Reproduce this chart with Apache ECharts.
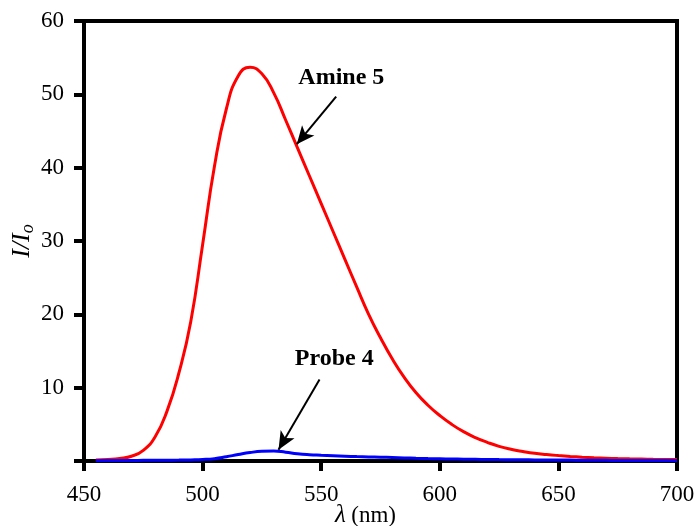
<!DOCTYPE html>
<html>
<head>
<meta charset="utf-8">
<script src="https://cdn.jsdelivr.net/npm/echarts@6/dist/echarts.min.js"></script>
<style>
html, body { margin: 0; padding: 0; background: #fff; }
#chart { width: 698px; height: 526px; }
</style>
</head>
<body>
<div id="chart"></div>
<script>
// Emission wavelengths (nm)
const wavelengths = [455, 460, 465, 470, 475, 480, 485, 490, 495, 500,
  505, 510, 515, 520, 525, 530, 535, 540, 545, 550,
  555, 560, 565, 570, 575, 580, 585, 590, 595, 600,
  605, 610, 615, 620, 625, 630, 635, 640, 645, 650,
  655, 660, 665, 670, 675, 680, 685, 690, 695, 700];

// Relative fluorescence intensity I/Io
const amine5 = [0.15, 0.22, 0.35, 0.65, 1.45, 3.3, 6.8, 12.0, 19.0, 29.5,
  40.2, 48.0, 52.5, 53.7, 52.8, 50.2, 46.5, 42.7, 38.9, 35.1,
  31.3, 27.5, 23.7, 20.0, 16.8, 13.9, 11.4, 9.3, 7.6, 6.2,
  5.0, 4.0, 3.2, 2.55, 2.0, 1.6, 1.3, 1.05, 0.88, 0.74,
  0.62, 0.52, 0.44, 0.38, 0.33, 0.29, 0.26, 0.23, 0.21, 0.2];

const probe4 = [0.05, 0.06, 0.07, 0.08, 0.09, 0.1, 0.11, 0.12, 0.15, 0.2,
  0.32, 0.58, 0.88, 1.15, 1.32, 1.36, 1.2, 0.98, 0.85, 0.78,
  0.72, 0.66, 0.6, 0.56, 0.52, 0.47, 0.42, 0.37, 0.33, 0.3,
  0.27, 0.25, 0.23, 0.21, 0.19, 0.18, 0.16, 0.15, 0.14, 0.13,
  0.12, 0.11, 0.1, 0.09, 0.08, 0.07, 0.07, 0.06, 0.06, 0.05];

// Axis ranges
const xRange = { min: 450, max: 700, interval: 50 };
const yRange = { min: 0, max: 60, interval: 10 };

// Annotation text anchors and arrows (tail -> tip), in data units
const amineNote = { text: 'Amine 5', at: [558.5, 52.2], tail: [556.3, 49.7], tip: [539.7, 43.2] };
const probeNote = { text: 'Probe 4', at: [555.5, 13.9], tail: [549.3, 11.1], tip: [532.0, 1.55] };

const serif = '"Liberation Serif", "Times New Roman", serif';

function pairs(xs, ys) {
  return xs.map((x, i) => [x, ys[i]]);
}

function annotation(note) {
  return {
    markLine: {
      silent: true,
      animation: false,
      symbol: ['none', 'arrow'],
      symbolSize: [12, 18],
      lineStyle: { color: '#000', width: 2, type: 'solid' },
      label: { show: false },
      data: [[{ coord: note.tail }, { coord: note.tip }]]
    },
    markPoint: {
      silent: true,
      animation: false,
      symbol: 'rect',
      symbolSize: 1,
      itemStyle: { color: 'rgba(0,0,0,0)' },
      label: {
        show: true,
        position: 'inside',
        formatter: note.text,
        color: '#000',
        fontFamily: serif,
        fontWeight: 'bold',
        fontSize: 24
      },
      data: [{ coord: note.at }]
    }
  };
}

const chart = echarts.init(document.getElementById('chart'), null, { renderer: 'canvas' });

const axisLine = { show: true, lineStyle: { color: '#000', width: 4 } };
const axisTick = { show: true, inside: false, length: 10, lineStyle: { color: '#000', width: 4 } };

chart.setOption({
  animation: false,
  backgroundColor: '#fff',
  grid: {
    left: 84, right: 21, top: 21, bottom: 65,
    show: true, borderColor: '#000', borderWidth: 4,
    outerBoundsMode: 'none'
  },
  xAxis: {
    type: 'value',
    min: xRange.min, max: xRange.max, interval: xRange.interval,
    axisLine, axisTick,
    splitLine: { show: false },
    axisLabel: { color: '#000', fontFamily: serif, fontSize: 23, margin: 22 },
    name: '{l|λ} {n|(nm)}',
    nameLocation: 'middle',
    nameGap: 42,
    nameMoveOverlap: false,
    nameTextStyle: {
      color: '#000', fontFamily: serif, fontSize: 22,
      padding: [0, 30, 0, 0],
      rich: {
        l: { fontFamily: serif, fontStyle: 'italic', fontSize: 25, color: '#000' },
        n: { fontFamily: serif, fontSize: 23, color: '#000' }
      }
    }
  },
  yAxis: {
    type: 'value',
    min: yRange.min, max: yRange.max, interval: yRange.interval,
    axisLine, axisTick,
    splitLine: { show: false },
    axisLabel: {
      color: '#000', fontFamily: serif, fontSize: 23, margin: 20,
      formatter: v => (v === 0 ? '' : String(v))
    },
    name: '{i|I/I}{s|o}',
    nameLocation: 'middle',
    nameGap: 47,
    nameRotate: 90,
    nameMoveOverlap: false,
    nameTextStyle: {
      color: '#000',
      rich: {
        i: { fontFamily: serif, fontStyle: 'italic', fontSize: 26, lineHeight: 30, color: '#000' },
        s: { fontFamily: serif, fontStyle: 'italic', fontSize: 18, lineHeight: 16, verticalAlign: 'bottom', color: '#000' }
      }
    }
  },
  series: [
    Object.assign({
      name: 'Amine 5',
      type: 'line',
      data: pairs(wavelengths, amine5),
      smooth: 0.5,
      showSymbol: false,
      lineStyle: { color: '#ff0000', width: 3 },
      itemStyle: { color: '#ff0000' },
      z: 3
    }, annotation(amineNote)),
    Object.assign({
      name: 'Probe 4',
      type: 'line',
      data: pairs(wavelengths, probe4),
      smooth: 0.5,
      showSymbol: false,
      lineStyle: { color: '#0000ff', width: 3 },
      itemStyle: { color: '#0000ff' },
      z: 4
    }, annotation(probeNote))
  ]
});
</script>
</body>
</html>
